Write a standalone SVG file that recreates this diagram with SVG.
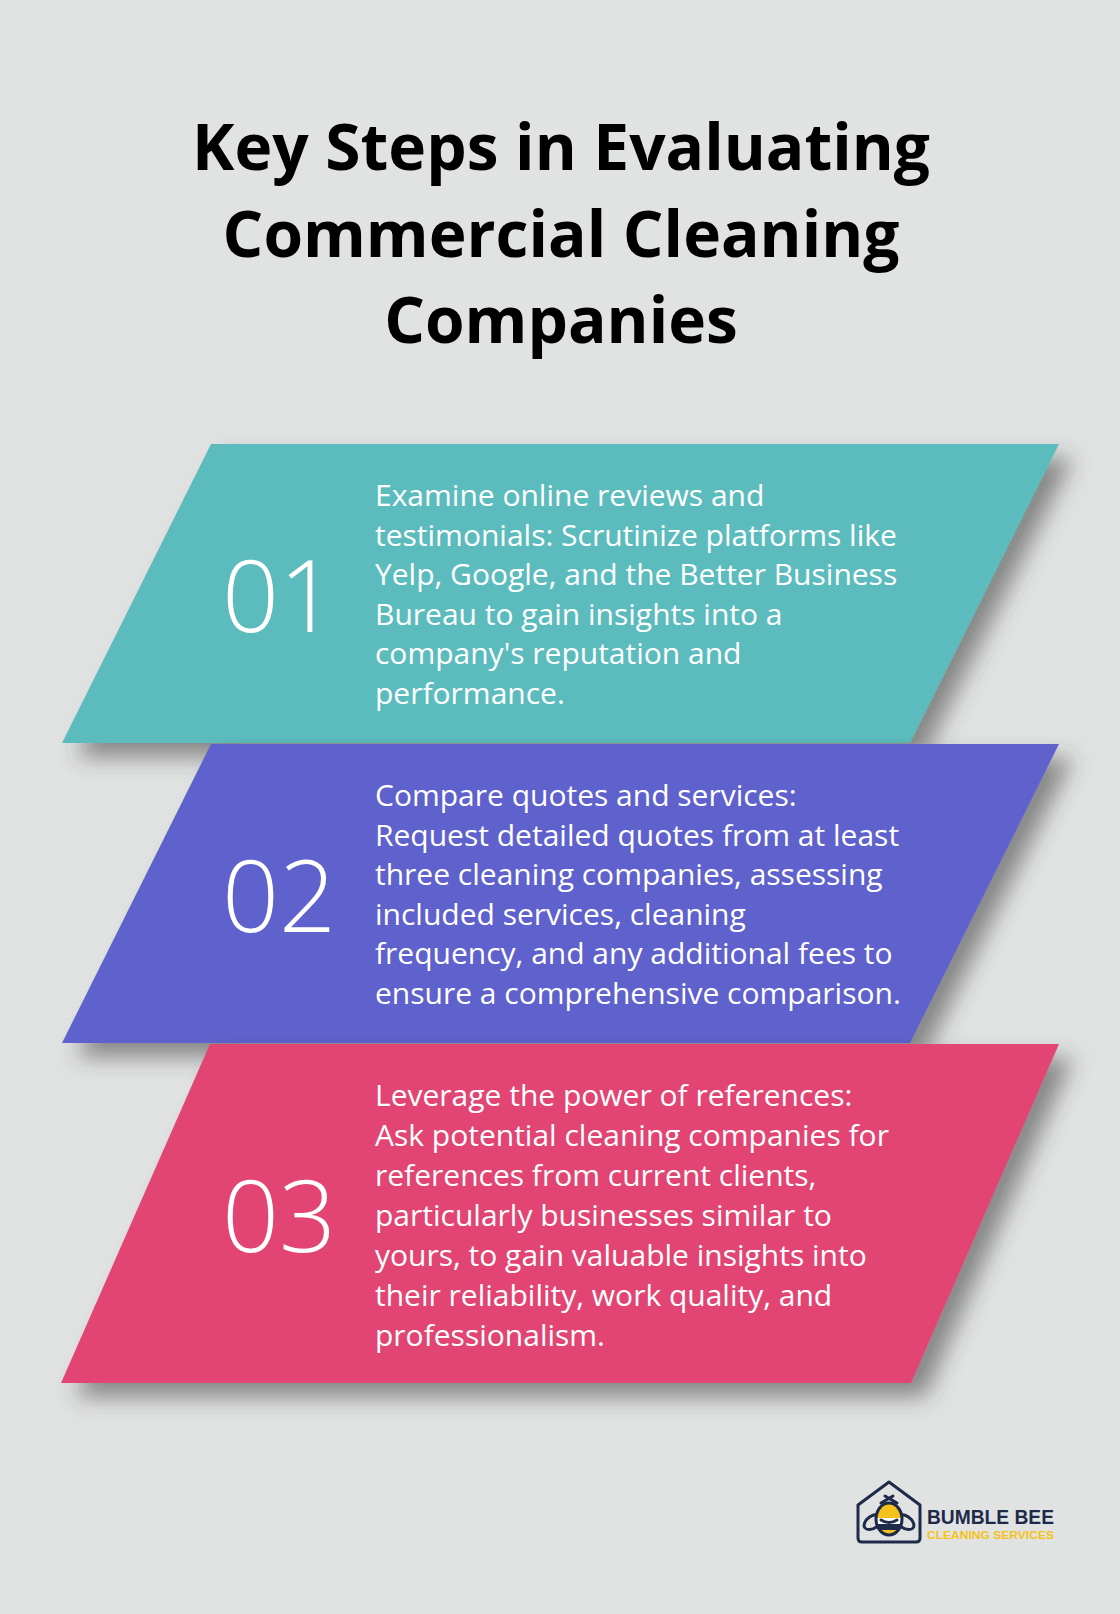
<svg xmlns="http://www.w3.org/2000/svg" width="1120" height="1614" viewBox="0 0 1120 1614">
<defs>
<filter id="sh" x="-20%" y="-30%" width="150%" height="170%">
<feDropShadow dx="14" dy="14" stdDeviation="11" flood-color="#3a3a3a" flood-opacity="0.55"/>
</filter>
<clipPath id="beeClip"><ellipse cx="889" cy="1519" rx="13" ry="16"/></clipPath>
</defs>
<style>
.title{font-family:"Open Sans","Liberation Sans",sans-serif;font-weight:700;font-size:64px;fill:#000;text-anchor:middle}
.num{font-family:"Open Sans","Liberation Sans",sans-serif;font-weight:300;font-size:100px;fill:#fff}
.body{font-family:"Open Sans","Liberation Sans",sans-serif;font-weight:400;font-size:30px;fill:#fff}
.navy{fill:none;stroke:#1e2a4a;stroke-width:3;stroke-linejoin:round;stroke-linecap:round}
</style>
<rect width="1120" height="1614" fill="#e1e3e2"/>
<g id="title">
<text class="title" x="561" y="170">Key Steps in Evaluating</text>
<text class="title" x="561" y="256.5">Commercial Cleaning</text>
<text class="title" x="561" y="343">Companies</text>
</g>
<g id="connectors"></g>
<g id="step1">
<polygon points="211,444 1059,444 910,743 62,743" fill="#5bbcbd" filter="url(#sh)"/>
<text class="num" x="222" y="632">01</text>
<text class="body" x="375">
<tspan x="375" y="506">Examine online reviews and</tspan>
<tspan x="375" y="545.5">testimonials: Scrutinize platforms like</tspan>
<tspan x="375" y="585">Yelp, Google, and the Better Business</tspan>
<tspan x="375" y="624.5">Bureau to gain insights into a</tspan>
<tspan x="375" y="664">company's reputation and</tspan>
<tspan x="375" y="703.5">performance.</tspan>
</text>
</g>
<g id="step2">
<polygon points="211,744 1059,744 910,1043 62,1043" fill="#5f62cc" filter="url(#sh)"/>
<text class="num" x="222" y="932">02</text>
<text class="body" x="375">
<tspan x="375" y="806">Compare quotes and services:</tspan>
<tspan x="375" y="845.5">Request detailed quotes from at least</tspan>
<tspan x="375" y="885">three cleaning companies, assessing</tspan>
<tspan x="375" y="924.5">included services, cleaning</tspan>
<tspan x="375" y="964">frequency, and any additional fees to</tspan>
<tspan x="375" y="1003.5">ensure a comprehensive comparison.</tspan>
</text>
</g>
<g id="step3">
<polygon points="210,1044 1059,1044 911,1383 61,1383" fill="#e24473" filter="url(#sh)"/>
<text class="num" x="222" y="1252">03</text>
<text class="body" x="375">
<tspan x="375" y="1106">Leverage the power of references:</tspan>
<tspan x="375" y="1146">Ask potential cleaning companies for</tspan>
<tspan x="375" y="1186">references from current clients,</tspan>
<tspan x="375" y="1226">particularly businesses similar to</tspan>
<tspan x="375" y="1266">yours, to gain valuable insights into</tspan>
<tspan x="375" y="1306">their reliability, work quality, and</tspan>
<tspan x="375" y="1346">professionalism.</tspan>
</text>
</g>
<g id="logo">
<path class="navy" d="M858,1505 L889,1482 L920,1505 L920,1538 Q920,1542 916,1542 L862,1542 Q858,1542 858,1538 Z"/>
<ellipse class="navy" cx="873" cy="1522" rx="10" ry="6" transform="rotate(-35 873 1522)" fill="#e1e3e2"/>
<ellipse class="navy" cx="905" cy="1522" rx="10" ry="6" transform="rotate(35 905 1522)" fill="#e1e3e2"/>
<g clip-path="url(#beeClip)">
<rect x="874" y="1500" width="30" height="18" fill="#f5c21b"/>
<rect x="874" y="1518" width="30" height="6" fill="#ffffff"/>
<rect x="874" y="1524" width="30" height="6" fill="#1e2a4a"/>
<rect x="874" y="1530" width="30" height="8" fill="#f5c21b"/>
</g>
<ellipse class="navy" cx="889" cy="1519" rx="13" ry="16"/>
<path class="navy" d="M881,1503 L893,1496 M897,1503 L885,1496" stroke-width="2.5"/>
<path class="navy" d="M881,1520 Q889,1525 897,1520" stroke-width="2"/>
<text x="927" y="1524" textLength="127" lengthAdjust="spacingAndGlyphs" style="font-family:'Liberation Sans',Arial,sans-serif;font-weight:700;font-size:21px;fill:#1e2a4a">BUMBLE BEE</text>
<text x="927" y="1539" textLength="127" lengthAdjust="spacingAndGlyphs" style="font-family:'Liberation Sans',Arial,sans-serif;font-weight:700;font-size:10.5px;fill:#f5c21b">CLEANING SERVICES</text>
</g>
</svg>
